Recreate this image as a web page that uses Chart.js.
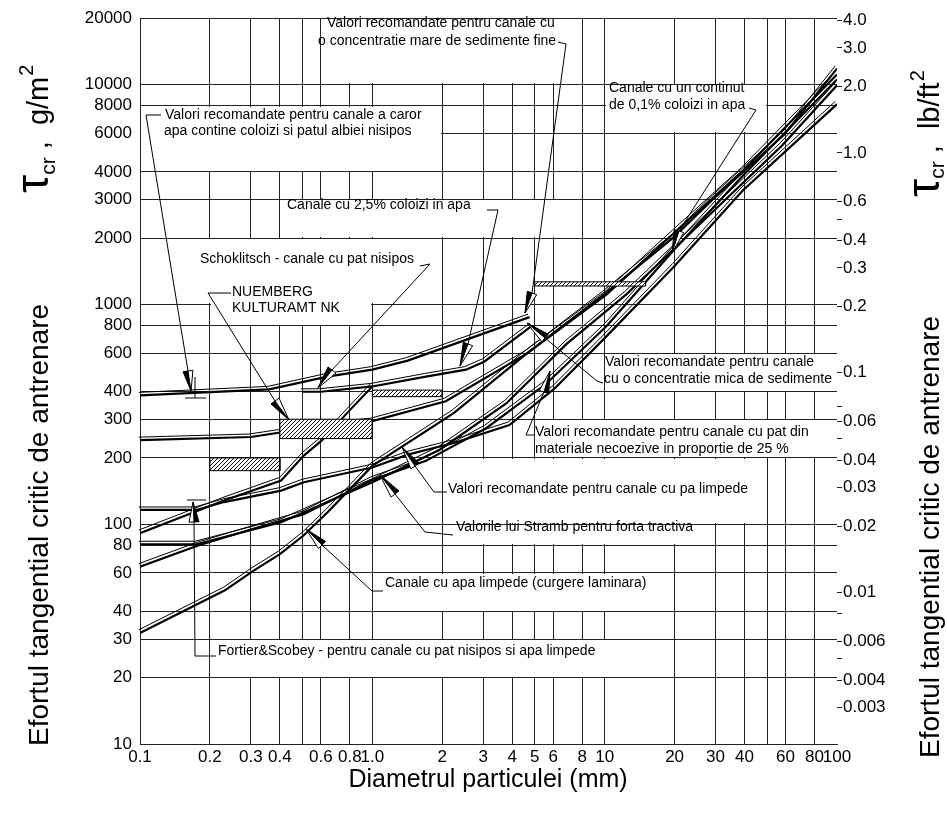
<!DOCTYPE html>
<html>
<head>
<meta charset="utf-8">
<script src="https://cdn.jsdelivr.net/npm/chart.js@4.4.0/dist/chart.umd.min.js"></script>
<style>
  html, body { margin: 0; padding: 0; background: #fff; }
  #wrap { width: 947px; height: 818px; }
</style>
</head>
<body>
<div id="wrap"><canvas id="chart" width="947" height="818"></canvas></div>
<script>
const FONT = "'Liberation Sans', Arial, sans-serif";
const G_PER_LB = 4882.4; // g/m2 in 1 lb/ft2

// axis ticks
const xTicks = [0.1, 0.2, 0.3, 0.4, 0.5, 0.6, 0.8, 1, 2, 3, 4, 5, 6, 8, 10, 20, 30, 40, 50, 60, 80, 100];
const xTickLabels = ['0.1', '0.2', '0.3', '0.4', '', '0.6', '0.8', '1.0', '2', '3', '4', '5', '6', '8', '10', '20', '30', '40', '', '60', '80', '100'];
const yTicks = [10, 20, 30, 40, 60, 80, 100, 200, 300, 400, 600, 800, 1000, 2000, 3000, 4000, 6000, 8000, 10000, 20000];
const y2Ticks = [4, 3, 2, 1, 0.6, 0.5, 0.4, 0.3, 0.2, 0.1, 0.07, 0.06, 0.05, 0.04, 0.03, 0.02, 0.01, 0.008, 0.006, 0.005, 0.004, 0.003];
const y2TickLabels = ['4.0', '3.0', '2.0', '1.0', '0.6', '', '0.4', '0.3', '0.2', '0.1', '', '0.06', '', '0.04', '0.03', '0.02', '0.01', '', '0.006', '', '0.004', '0.003'];

// curves: diameter (mm) and critical shear (g/m2)
const dColoizi = [0.1, 0.36, 0.64, 1.0, 1.42, 4.75];
const tColoizi = [385, 410, 469, 504, 554, 874];
const dSchoklitsch = [0.5, 0.6, 1.0];
const tSchoklitsch = [400, 400, 423];
const dColoizi25 = [0.1, 0.23, 0.405, 0.507, 0.608, 0.8, 1.0, 1.7, 2.53, 3.03, 4.84];
const tColoizi25 = [91, 128, 158, 205, 241, 330, 423, 469, 504, 548, 796];
const dNuemberg = [0.1, 0.3, 0.608, 1.0, 2.07, 4.6, 10.2, 19.9, 39.4, 100];
const tNuemberg = [241, 249, 279, 294, 362, 595, 1109, 2110, 4055, 11090];
const dPaLimpede = [0.1, 0.175, 0.23, 0.405, 0.507, 1.0, 1.42, 2.24, 3.89, 6.09, 9.93, 19.9, 39.4, 100];
const tPaLimpede = [116, 116, 126, 142, 155, 181, 207, 234, 282, 414, 696, 1484, 3300, 8130];
const dStramb = [0.1, 0.175, 0.405, 1.0, 1.95, 3.77, 6.86, 12.4, 26.8, 57.9, 100];
const tStramb = [81, 81, 102, 155, 218, 354, 660, 1109, 2415, 5260, 9900];
const dFortier = [0.1, 0.178, 0.305, 0.507, 1.0, 1.7, 3.09, 5.62, 10.2, 19.9, 39.4, 100];
const tFortier = [64, 80, 95, 111, 159, 194, 273, 436, 796, 1769, 3850, 10530];
const dLaminar = [0.1, 0.232, 0.305, 0.4, 0.507, 0.64, 0.8, 1.0, 2.24, 4.6, 9.93, 19.9, 29.5, 59.6, 100];
const tLaminar = [32, 50, 61, 73, 89, 113, 144, 184, 320, 595, 1109, 2025, 3030, 5950, 11800];

// hatched ranges
const bandD0 = [0.2, 0.4, 1.0, 5];
const bandD1 = [0.4, 1.0, 2.0, 15];
const bandT0 = [175, 245, 380, 1210];
const bandT1 = [200, 300, 407, 1265];

const curves = [
  [dColoizi, tColoizi], [dSchoklitsch, tSchoklitsch], [dColoizi25, tColoizi25],
  [dNuemberg, tNuemberg], [dPaLimpede, tPaLimpede], [dStramb, tStramb],
  [dFortier, tFortier], [dLaminar, tLaminar]
];

// white label panels (cut the grid), in axis units
const panels = [
  { x: [0.6, 8], y: [10000, 20000] },
  { x: [0.1, 2], y: [4000, 8000] },
  { x: [0.4, 8], y: [2000, 3000] },
  { x: [0.1, 2], y: [1000, 2000] },
  { x: [0.2, 1], y: [800, 1000], coverTop: true },
  { x: [10, 50], y: [6000, 10000] },
  { x: [10, 100], y: [400, 600] },
  { x: [5, 100], y: [200, 300] },
  { x: [2, 50], y: [100, 200] },
  { x: [2, 30], y: [80, 100] },
  { x: [1, 20], y: [40, 60] },
  { x: [0.2, 20], y: [20, 30] }
];

// labels with leaders (pixels)
const notes = [
  { lines: ['Valori recomandate pentru canale cu', 'o concentratie mare de sedimente fine'], x: [327, 318], y: [23, 41],
    leader: [[558, 42], [566, 44], [532, 293]], tip: [525, 313] },
  { lines: ['Valori recomandate pentru canale a caror', 'apa contine coloizi si patul albiei nisipos'], x: [165, 164], y: [115, 131],
    leader: [[161, 115], [146, 115], [188, 371]], tip: [191, 391], extra: [[[195, 377], [195, 398]], [[185, 398], [206, 398]]] },
  { lines: ['Canale cu 2,5% coloizi in apa'], x: [287], y: [205],
    leader: [[487, 210], [498, 210], [468, 344]], tip: [460, 366] },
  { lines: ['Schoklitsch - canale cu pat nisipos'], x: [200], y: [259],
    leader: [[420, 266], [430, 264], [332, 370]], tip: [318, 388] },
  { lines: ['NUEMBERG', 'KULTURAMT NK'], x: [232, 232], y: [292, 308],
    leader: [[231, 293], [208, 293], [275, 401]], tip: [289, 420] },
  { lines: ['Canale cu un continut', 'de 0,1% coloizi in apa'], x: [609, 609], y: [88, 105],
    leader: [[749, 108], [756, 110], [679, 231]], tip: [672, 253] },
  { lines: ['Valori recomandate pentru canale', 'cu o concentratie mica de sedimente'], x: [605, 604], y: [362, 379],
    leader: [[603, 383], [597, 381], [545, 338]], tip: [527, 323] },
  { lines: ['Valori recomandate pentru canale cu pat din', 'materiale necoezive in proportie de 25 %'], x: [535, 535], y: [432, 449],
    leader: [[534, 435], [526, 435], [544, 392]], tip: [550, 371] },
  { lines: ['Valori recomandate pentru canale cu pa limpede'], x: [448], y: [489],
    leader: [[447, 492], [434, 492], [415, 466]], tip: [402, 447] },
  { lines: ['Valorile lui Stramb pentru forta tractiva'], x: [456], y: [527],
    leader: [[453, 535], [425, 532], [395, 494]], tip: [380, 475] },
  { lines: ['Canale cu apa limpede (curgere laminara)'], x: [385], y: [583],
    leader: [[383, 591], [372, 591], [322, 545]], tip: [306, 529] },
  { lines: ['Fortier&Scobey - pentru canale cu pat nisipos si apa limpede'], x: [218], y: [651],
    leader: [[216, 656], [195, 656], [194, 522]], tip: [193, 502], extra: [[[187, 500], [206, 500]]] }
];

const canvas = document.getElementById('chart');
const ctx = canvas.getContext('2d');

function makeHatch() {
  const c = document.createElement('canvas');
  c.width = 4; c.height = 4;
  const g = c.getContext('2d');
  g.fillStyle = '#fff';
  g.fillRect(0, 0, 4, 4);
  g.strokeStyle = '#111';
  g.lineWidth = 1;
  g.beginPath();
  g.moveTo(0, 4); g.lineTo(4, 0);
  g.moveTo(-1, 1); g.lineTo(1, -1);
  g.moveTo(3, 5); g.lineTo(5, 3);
  g.stroke();
  return ctx.createPattern(c, 'repeat');
}
const hatch = makeHatch();

const datasets = [];
bandD0.forEach((d0, i) => {
  const d1 = bandD1[i], t0 = bandT0[i], t1 = bandT1[i];
  datasets.push({
    data: [{ x: d0, y: t0 }, { x: d0, y: t1 }, { x: d1, y: t1 }, { x: d1, y: t0 }, { x: d0, y: t0 }],
    borderColor: '#000', borderWidth: 1, backgroundColor: hatch, fill: 'shape', yAxisID: 'y'
  });
});
curves.forEach(([d, t]) => {
  const pts = d.map((v, i) => ({ x: v, y: t[i] }));
  // thin companion line (drawn shifted), then the thick one
  datasets.push({ data: pts, borderColor: '#000', borderWidth: 1, fill: false, yAxisID: 'y', shift: [-1.5, -3] });
  datasets.push({ data: pts, borderColor: '#000', borderWidth: 2.2, fill: false, yAxisID: 'y' });
});

const shiftPlugin = {
  id: 'shift',
  beforeDatasetDraw(chart, args) {
    const s = chart.data.datasets[args.index].shift;
    chart.ctx.save();
    if (s) chart.ctx.translate(s[0], s[1]);
  },
  afterDatasetDraw(chart) {
    chart.ctx.restore();
  }
};

const panelPlugin = {
  id: 'panels',
  beforeDatasetsDraw(chart) {
    const c = chart.ctx, xs = chart.scales.x, ys = chart.scales.y;
    c.save();
    c.fillStyle = '#fff';
    panels.forEach(p => {
      const x0 = Math.round(xs.getPixelForValue(p.x[0])) + 1;
      const x1 = Math.round(xs.getPixelForValue(p.x[1])) - 1;
      const yTop = Math.round(ys.getPixelForValue(p.y[1])) + (p.coverTop ? -2 : 1);
      const yBot = Math.round(ys.getPixelForValue(p.y[0])) - 1;
      c.fillRect(x0, yTop, x1 - x0, yBot - yTop);
    });
    c.restore();
  }
};

function arrowHead(c, bx, by, tx, ty) {
  const dx = tx - bx, dy = ty - by, len = Math.hypot(dx, dy);
  const px = -dy / len, py = dx / len, w = 5;
  c.beginPath();
  c.moveTo(tx, ty); c.lineTo(bx, by); c.lineTo(bx + px * w, by + py * w); c.closePath();
  c.fillStyle = '#000'; c.fill();
  c.strokeStyle = '#000'; c.lineWidth = 1; c.stroke();
  c.beginPath();
  c.moveTo(tx, ty); c.lineTo(bx, by); c.lineTo(bx - px * w, by - py * w); c.closePath();
  c.fillStyle = '#fff'; c.fill();
  c.stroke();
}

const notePlugin = {
  id: 'notes',
  afterDatasetsDraw(chart) {
    const c = chart.ctx;
    c.save();
    c.strokeStyle = '#000';
    c.lineWidth = 1;
    notes.forEach(n => {
      c.beginPath();
      n.leader.forEach((p, i) => i ? c.lineTo(p[0], p[1]) : c.moveTo(p[0], p[1]));
      c.stroke();
      (n.extra || []).forEach(seg => {
        c.beginPath();
        c.moveTo(seg[0][0], seg[0][1]);
        c.lineTo(seg[1][0], seg[1][1]);
        c.stroke();
      });
      const b = n.leader[n.leader.length - 1];
      arrowHead(c, b[0], b[1], n.tip[0], n.tip[1]);
      c.fillStyle = '#000';
      c.font = '14px ' + FONT;
      c.textAlign = 'left';
      c.textBaseline = 'middle';
      n.lines.forEach((s, i) => c.fillText(s, n.x[i], n.y[i]));
    });
    c.restore();
  }
};

function sideTitle(c, bx, y0, yTau, unit, subDrop) {
  c.save();
  c.translate(bx, y0);
  c.rotate(-Math.PI / 2);
  c.fillStyle = '#000';
  c.textAlign = 'left';
  c.textBaseline = 'alphabetic';
  c.font = '28px ' + FONT;
  c.fillText('Efortul tangential critic de antrenare', 0, 0);
  let x = y0 - yTau;
  c.font = '46px ' + FONT;
  c.fillText('τ', x, 0);
  x += c.measureText('τ').width;
  c.font = '21px ' + FONT;
  c.fillText('cr', x, subDrop);
  x += c.measureText('cr').width;
  c.font = '29px ' + FONT;
  const u = ' ,  ' + unit;
  c.fillText(u, x, 0);
  x += c.measureText(u).width;
  c.font = '20px ' + FONT;
  c.fillText('2', x + 1, -15);
  c.restore();
}

const titlePlugin = {
  id: 'titles',
  afterDraw(chart) {
    const c = chart.ctx;
    sideTitle(c, 48, 746, 193, 'g/m', 7);
    sideTitle(c, 939, 758, 197, 'lb/ft', 5);
    c.save();
    c.fillStyle = '#000';
    c.font = '25px ' + FONT;
    c.textAlign = 'center';
    c.textBaseline = 'alphabetic';
    c.fillText('Diametrul particulei (mm)', 488, 787);
    c.restore();
  }
};

const tickFont = { family: FONT, size: 17 };
const gridColor = '#222';

new Chart(ctx, {
  type: 'line',
  data: { datasets: datasets },
  options: {
    responsive: false,
    animation: false,
    devicePixelRatio: 1,
    layout: { padding: { top: 12, left: 0, right: 0, bottom: 0 } },
    plugins: { legend: { display: false }, tooltip: { enabled: false } },
    elements: { line: { tension: 0 }, point: { radius: 0 } },
    scales: {
      x: {
        type: 'logarithmic', min: 0.1, max: 100,
        afterBuildTicks: ax => { ax.ticks = xTicks.map(v => ({ value: v })); },
        afterFit: s => { s.height = 74; },
        ticks: { autoSkip: false, maxRotation: 0, padding: 3, color: '#000', font: tickFont,
          callback: (v, i) => xTickLabels[i] },
        grid: { color: c => (c.tick && c.tick.value === 100) ? 'rgba(0,0,0,0)' : gridColor, lineWidth: 1, drawTicks: false },
        border: { color: gridColor, width: 1 }
      },
      y: {
        type: 'logarithmic', position: 'left', min: 10, max: 20000,
        afterBuildTicks: ax => { ax.ticks = yTicks.map(v => ({ value: v })); },
        afterFit: s => { s.width = 140; },
        ticks: { autoSkip: false, padding: 8, color: '#000', font: tickFont, callback: v => String(v) },
        grid: { color: gridColor, lineWidth: 1, drawTicks: false },
        border: { color: gridColor, width: 1 }
      },
      y2: {
        type: 'logarithmic', position: 'right', min: 10 / G_PER_LB, max: 20000 / G_PER_LB,
        afterBuildTicks: ax => { ax.ticks = y2Ticks.map(v => ({ value: v })); },
        afterFit: s => { s.width = 110; },
        ticks: { autoSkip: false, padding: 1, color: '#000', font: tickFont, callback: (v, i) => y2TickLabels[i] },
        grid: { drawOnChartArea: false, drawTicks: true, tickLength: 5, color: gridColor },
        border: { display: false }
      }
    }
  },
  plugins: [shiftPlugin, panelPlugin, notePlugin, titlePlugin]
});
</script>
</body>
</html>
